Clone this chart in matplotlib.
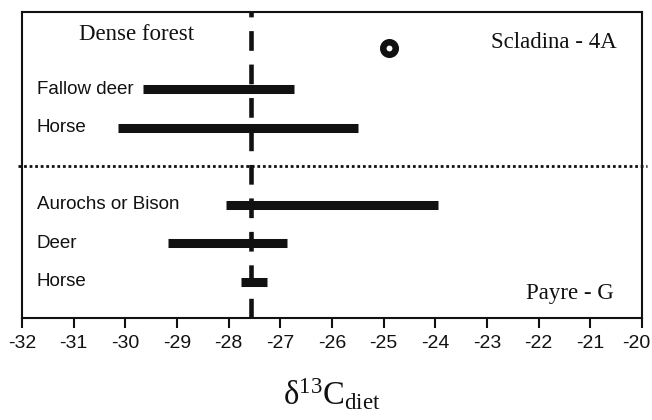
import matplotlib
matplotlib.use("Agg")
import matplotlib.pyplot as plt
from matplotlib.transforms import ScaledTranslation

plt.rcParams['font.family'] = ['Liberation Sans', 'DejaVu Sans']
plt.rcParams['mathtext.fontset'] = 'custom'
plt.rcParams['mathtext.rm'] = 'Liberation Serif'
plt.rcParams['mathtext.it'] = 'Liberation Serif:italic'

# Data
labels = ["Fallow deer", "Horse", "Aurochs or Bison", "Deer", "Horse"]
row_pos = [5, 4, 2, 1, 0]
mins = [-29.66, -30.15, -28.06, -29.18, -27.77]
maxs = [-26.74, -25.49, -23.94, -26.88, -27.25]
forest_threshold = -27.57
circle_x = [-24.9]
circle_y = [6.06]
divider_y = 3
xticks = list(range(-32, -19))

fig = plt.figure(figsize=(6.52, 4.2), dpi=100)
ax = fig.add_axes([22/652, 1-318/420, 620/652, 306/420])
ax.set_xlim(-32, -20)
ax.set_ylim(-0.94, 7.0)

for y, a, b in zip(row_pos, mins, maxs):
    ax.hlines(y, a, b, color='#111111', lw=6.5, capstyle='butt', zorder=3)

ax.axvline(forest_threshold, color='#111111', lw=3.3, ls=(0, (4.3, 3.0)), zorder=4)

ax.plot([-32.08, -19.9], [divider_y, divider_y], color='#111111', lw=2,
        ls=(0, (1.0, 1.0)), clip_on=False, zorder=2)

ax.plot(circle_x, circle_y, 'o', ms=9.0, mew=4.7, mfc='white', mec='#111111', zorder=5)

for y, lab in zip(row_pos, labels):
    ax.text(0.024, y, lab, transform=ax.get_yaxis_transform(), ha='left', va='center',
            fontsize=13.5, color='#111111')

ax.text(0.184, 6.42, "Dense forest", transform=ax.get_yaxis_transform(), ha='center',
        va='center', fontsize=16.5, family='Liberation Serif', color='#111111')
ax.text(0.96, 6.2, "Scladina - 4A", transform=ax.get_yaxis_transform(), ha='right',
        va='center', fontsize=16.5, family='Liberation Serif', color='#111111')
ax.text(0.955, -0.31, "Payre - G", transform=ax.get_yaxis_transform(), ha='right',
        va='center', fontsize=16.5, family='Liberation Serif', color='#111111')

ax.set_xticks(xticks)
ax.set_xticklabels([str(t) for t in xticks])
ax.tick_params(axis='x', direction='out', length=7, width=1.5, labelsize=14, pad=5,
               colors='#111111')
last = ax.get_xticklabels()[-1]
last.set_transform(last.get_transform() + ScaledTranslation(-6/100, 0, fig.dpi_scale_trans))
ax.set_yticks([])
for s in ax.spines.values():
    s.set_linewidth(1.5)
    s.set_color('#111111')

fig.text(0.509, 0.06, r"δ$^{13}$C$_{\mathrm{diet}}$", ha='center', va='center',
         fontsize=23.5, family='Liberation Serif', color='#111111')

fig.savefig("out.png", dpi=100)
